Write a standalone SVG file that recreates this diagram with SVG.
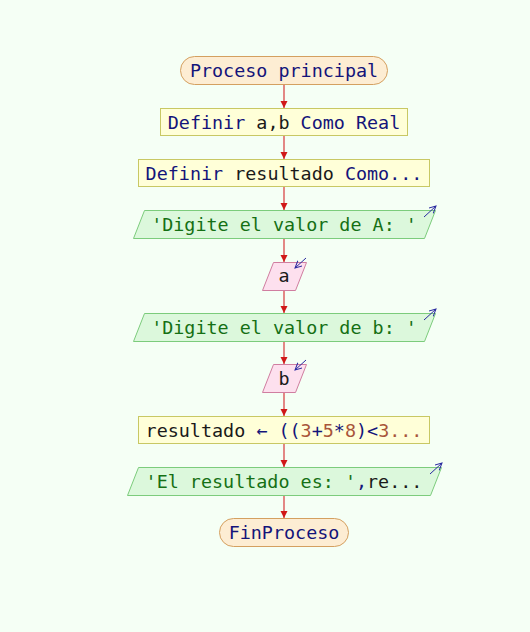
<svg xmlns="http://www.w3.org/2000/svg" width="530" height="632" viewBox="0 0 530 632">
<defs>
<style>
text{font-family:"DejaVu Sans Mono","Liberation Mono",monospace;font-size:18.4px;text-anchor:middle;dominant-baseline:central}
.term{fill:#fdedd3;stroke:#d4a060;stroke-width:1}
.proc{fill:#ffffd8;stroke:#c8c864;stroke-width:1}
.out{fill:#dcf8dc;stroke:#7ccc7c;stroke-width:1}
.inp{fill:#fde0ee;stroke:#d07ea0;stroke-width:1}
.kw{fill:#14147a}
.id{fill:#1a1a1a}
.str{fill:#157015}
.num{fill:#a8553a}
.flow{stroke:#d84848;stroke-width:1.3;fill:none}
.io{stroke:#2a2aa0;stroke-width:1;fill:none}
</style>
<marker id="ah" markerWidth="8" markerHeight="8" refX="7" refY="4" orient="auto" markerUnits="userSpaceOnUse">
<path d="M0,0.5 L7,4 L0,7.5 Z" fill="#d01818"/>
</marker>
<marker id="bh" markerWidth="8" markerHeight="8" refX="7" refY="3.5" orient="auto" markerUnits="userSpaceOnUse">
<path d="M0,0 L7,3.5 L0,7" fill="none" stroke="#2a2aa0" stroke-width="1"/>
</marker>
</defs>
<rect width="530" height="632" fill="#f5fff5"/>
<g id="connectors">
<line class="flow" x1="284" y1="85" x2="284" y2="108" marker-end="url(#ah)"/>
<line class="flow" x1="284" y1="135" x2="284" y2="159" marker-end="url(#ah)"/>
<line class="flow" x1="284" y1="187" x2="284" y2="210" marker-end="url(#ah)"/>
<line class="flow" x1="284" y1="239" x2="284" y2="262" marker-end="url(#ah)"/>
<line class="flow" x1="284" y1="290" x2="284" y2="313" marker-end="url(#ah)"/>
<line class="flow" x1="284" y1="341" x2="284" y2="364" marker-end="url(#ah)"/>
<line class="flow" x1="284" y1="393" x2="284" y2="416" marker-end="url(#ah)"/>
<line class="flow" x1="284" y1="444" x2="284" y2="467" marker-end="url(#ah)"/>
<line class="flow" x1="284" y1="496" x2="284" y2="518" marker-end="url(#ah)"/>
</g>
<g id="start">
<rect class="term" x="180.5" y="56.5" width="207" height="28" rx="14"/>
<text x="284" y="70" class="kw">Proceso principal</text>
</g>
<g id="def1">
<rect class="proc" x="160.5" y="108.5" width="247" height="27"/>
<text x="284" y="121.5"><tspan class="kw">Definir </tspan><tspan class="id">a,b</tspan><tspan class="kw"> Como Real</tspan></text>
</g>
<g id="def2">
<rect class="proc" x="138.5" y="159.5" width="291" height="27"/>
<text x="284" y="172.5"><tspan class="kw">Definir </tspan><tspan class="id">resultado</tspan><tspan class="kw"> Como...</tspan></text>
</g>
<g id="out1">
<polygon class="out" points="144.5,210.5 435.5,210.5 424.5,238.5 133.5,238.5"/>
<text x="284" y="224" class="str">'Digite el valor de A: '</text>
<line class="io" x1="424" y1="217" x2="436" y2="206" marker-end="url(#bh)"/>
</g>
<g id="in1">
<polygon class="inp" points="273.5,262.5 306.5,262.5 295.5,290.5 262.5,290.5"/>
<text x="284" y="275.5" class="id">a</text>
<line class="io" x1="306" y1="258" x2="295" y2="268" marker-end="url(#bh)"/>
</g>
<g id="out2">
<polygon class="out" points="144.5,313.5 435.5,313.5 424.5,341.5 133.5,341.5"/>
<text x="284" y="327" class="str">'Digite el valor de b: '</text>
<line class="io" x1="424" y1="320" x2="436" y2="309" marker-end="url(#bh)"/>
</g>
<g id="in2">
<polygon class="inp" points="273.5,364.5 306.5,364.5 295.5,392.5 262.5,392.5"/>
<text x="284" y="378" class="id">b</text>
<line class="io" x1="306" y1="360" x2="295" y2="370" marker-end="url(#bh)"/>
</g>
<g id="assign">
<rect class="proc" x="138.5" y="416.5" width="291" height="27"/>
<text x="284" y="429.5"><tspan class="id">resultado </tspan><tspan class="kw">← ((</tspan><tspan class="num">3</tspan><tspan class="kw">+</tspan><tspan class="num">5</tspan><tspan class="kw">*</tspan><tspan class="num">8</tspan><tspan class="kw">)&lt;</tspan><tspan class="num">3...</tspan></text>
</g>
<g id="out3">
<polygon class="out" points="138.5,467.5 441.5,467.5 430.5,495.5 127.5,495.5"/>
<text x="284" y="481"><tspan class="str">'El resultado es: '</tspan><tspan class="kw">,</tspan><tspan class="id">re...</tspan></text>
<line class="io" x1="430" y1="474" x2="442" y2="463" marker-end="url(#bh)"/>
</g>
<g id="end">
<rect class="term" x="219.5" y="518.5" width="129" height="28" rx="14"/>
<text x="284" y="532" class="kw">FinProceso</text>
</g>
</svg>
